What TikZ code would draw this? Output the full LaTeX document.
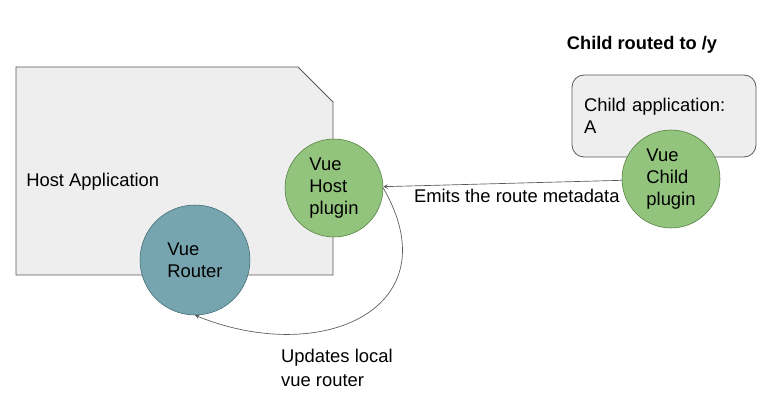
\documentclass[tikz,border=0pt]{standalone}
\usepackage{fontspec}
\setmainfont{Liberation Sans}
\tikzset{>=stealth}
\definecolor{appgray}{HTML}{EEEEEE}
\definecolor{edgegray}{HTML}{595959}
\definecolor{plugingreen}{HTML}{93C47D}
\definecolor{plugindark}{HTML}{4E7A3A}
\definecolor{routerteal}{HTML}{76A5AF}
\definecolor{routerdark}{HTML}{3E6770}
\tikzset{
  appbox/.style={draw=edgegray, fill=appgray, line width=0.6pt},
  plugin/.style={circle, draw=plugindark, fill=plugingreen, align=left, minimum size=73.5pt, inner sep=0pt},
  router/.style={circle, draw=routerdark, fill=routerteal, align=left, minimum size=82.5pt, inner sep=0pt},
  flow/.style={->, draw=edgegray, line width=0.5pt}
}

\begin{document}
\begin{tikzpicture}[x=0.75pt, y=-0.75pt, font=\fontsize{13.8}{16.5}\selectfont]
    \useasboundingbox (0,0) rectangle (778,402);
    % host side
    \draw[appbox] (16,67) -- (298,67) -- (333,102) -- (333,275) -- (16,275) -- cycle;
    \node[anchor=west, inner sep=0pt] (hostlabel) at (26,182) {Host Application};
    \node[router] (vuerouter) at (195,260) {Vue\\Router};
    \node[plugin] (hostplugin) at (334,188) {Vue\\Host\\plugin};
    % child side
    \node[font=\fontsize{13.7}{16.5}\selectfont\bfseries] (childtitle) at (642,45) {Child routed to /y};
    \node[appbox, rounded corners=9pt, minimum height=61.5pt, text width=120pt, inner sep=9pt, align=left] (childapp) at (664,116) {Child application:\\A};
    \node[plugin] (childplugin) at (671,179) {Vue\\Child\\plugin};
    % connectors
    \draw[flow] (childplugin) -- node[pos=0.44, below, yshift=-1pt] {Emits the route metadata} (hostplugin);
    \draw[flow] (hostplugin.east) to[out=-60, in=-22, looseness=1.55]
        node[pos=0.64, anchor=north west, align=left, font=\fontsize{13.8}{18}\selectfont, xshift=-36pt, yshift=-10.5pt] {Updates local\\vue router} (vuerouter.south);
\end{tikzpicture}
\end{document}
